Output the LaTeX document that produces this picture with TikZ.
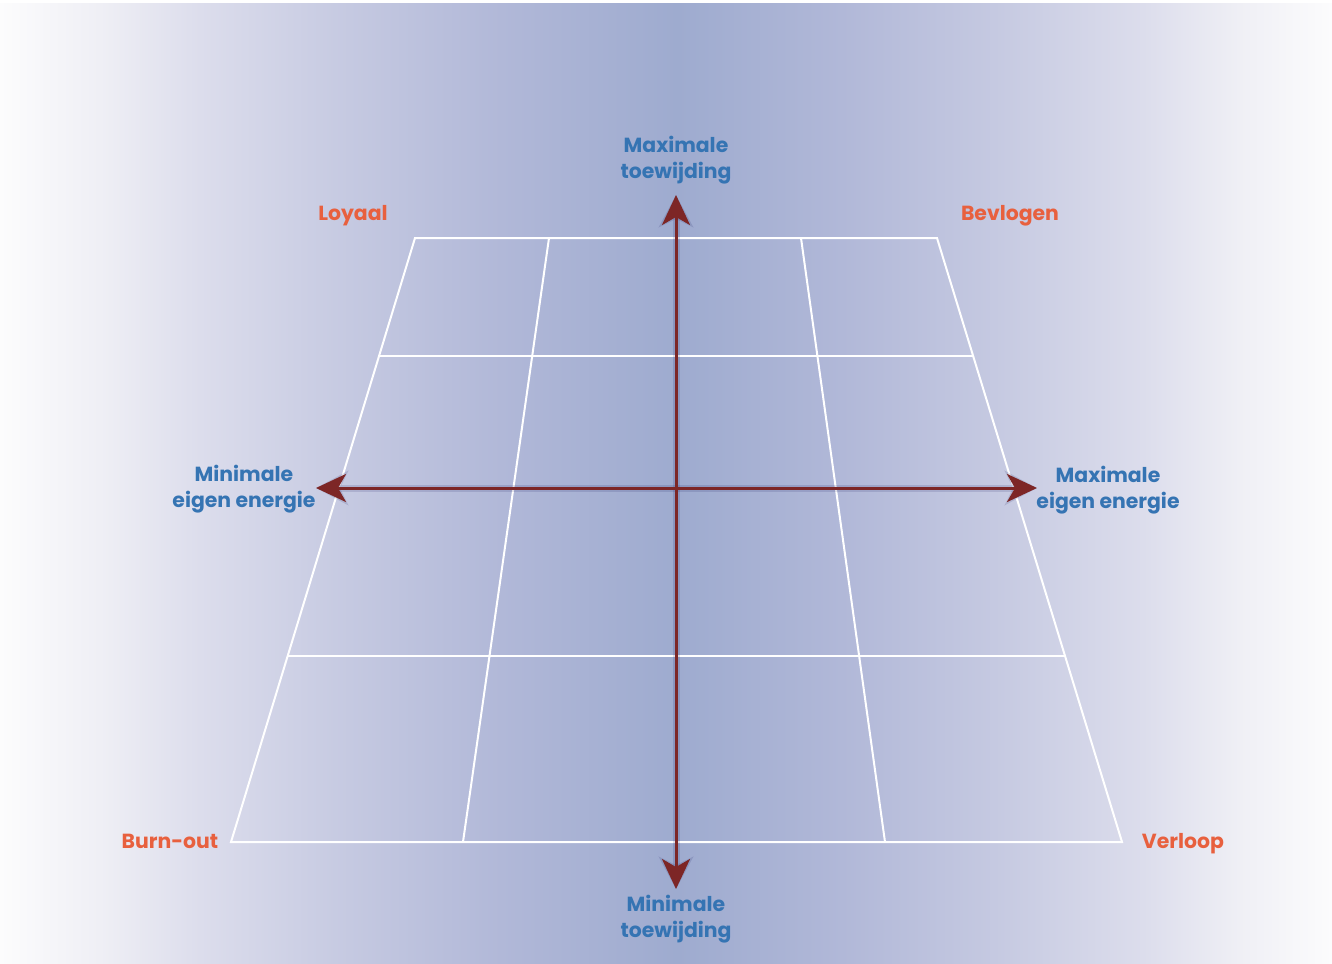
\documentclass[tikz,border=0pt]{standalone}
\usepackage{fontspec}
\setmainfont{Poppins}
\usetikzlibrary{arrows.meta}

\definecolor{labelblue}{HTML}{3574B3}
\definecolor{labelred}{HTML}{E8603E}
\definecolor{axisred}{HTML}{7D2626}

\definecolor{bgA}{HTML}{FCFCFD}
\definecolor{bgB}{HTML}{EFEFF5}
\definecolor{bgC}{HTML}{DCDDEC}
\definecolor{bgD}{HTML}{C5C9E1}
\definecolor{bgE}{HTML}{B1B8D8}
\definecolor{bgF}{HTML}{9EABCF}

% soft white edges fading into a blue band in the middle
% (the filled area spans 25bp to 75bp of the shading)
\pgfdeclarehorizontalshading{backdrop}{100bp}{%
  color(0bp)=(bgA);
  color(25bp)=(bgA);
  color(28.75bp)=(bgB);
  color(32.5bp)=(bgC);
  color(38.1bp)=(bgD);
  color(43.8bp)=(bgE);
  color(50.4bp)=(bgF);
  color(56.6bp)=(bgE);
  color(62.3bp)=(bgD);
  color(67.9bp)=(bgC);
  color(71.5bp)=(bgB);
  color(75bp)=(bgA);
  color(100bp)=(bgA)}

\tikzset{
  gridline/.style={draw=white, line width=1pt},
  axis/.style={draw=axisred, line width=1.5pt,
    {Stealth[length=15pt,width=14pt,inset=4pt]}-{Stealth[length=15pt,width=14pt,inset=4pt]}},
  axisshadow/.style={draw=black!70!blue, opacity=0.12, line width=3.5pt,
    {Stealth[length=16pt,width=17pt,inset=4pt]}-{Stealth[length=16pt,width=17pt,inset=4pt]}},
  dirlabel/.style={text=labelblue, font=\bfseries\fontsize{10.2}{13}\selectfont, align=center},
  cornerlabel/.style={text=labelred, font=\bfseries\fontsize{10.2}{13}\selectfont, anchor=base},
}

\begin{document}
\begin{tikzpicture}[x=0.5pt, y=-0.5pt]
  \useasboundingbox (0,0) rectangle (1332,963);
  \fill[white] (0,0) rectangle (1332,963);
  \shade[shading=backdrop] (0,4) rectangle (1332,963);

  % corners of the trapezoid field
  \coordinate (tl) at (415,238);
  \coordinate (tr) at (937,238);
  \coordinate (bl) at (231,842);
  \coordinate (br) at (1122,842);

  % outline
  \draw[gridline] (tl) -- (tr) -- (br) -- (bl) -- cycle;
  % inner column dividers
  \coordinate (c1t) at (549,238);  \coordinate (c1b) at (463,842);
  \coordinate (c3t) at (801,238);  \coordinate (c3b) at (885,842);
  \draw[gridline] (c1t) -- (c1b);
  \draw[gridline] (c3t) -- (c3b);
  % row dividers
  \coordinate (r1l) at (379.1,356);  \coordinate (r1r) at (973.1,356);
  \coordinate (r2l) at (351.2,488);  \coordinate (r2r) at (1013.4,488);
  \coordinate (r3l) at (287.7,656);  \coordinate (r3r) at (1065.1,656);
  \draw[gridline] (r1l) -- (r1r);
  \draw[gridline] (r2l) -- (r2r);
  \draw[gridline] (r3l) -- (r3r);

  % axes with a faint shadow
  \coordinate (vtop) at (676,195);
  \coordinate (vbot) at (676,889);
  \coordinate (hleft) at (316,488);
  \coordinate (hright) at (1037,488);
  \begin{scope}[shift={(4,4)}]
    \draw[axisshadow] (vbot) -- (vtop);
    \draw[axisshadow] (hleft) -- (hright);
  \end{scope}
  \draw[axis] (vbot) -- (vtop);
  \draw[axis] (hleft) -- (hright);

  % axis labels
  \node[dirlabel] (maxtoe) at (676,160) {Maximale\\toewijding};
  \node[dirlabel] (mintoe) at (676,919) {Minimale\\toewijding};
  \node[dirlabel] (minen) at (244,489) {Minimale\\eigen energie};
  \node[dirlabel] (maxen) at (1108,490) {Maximale\\eigen energie};

  % corner labels, set on a common baseline
  \node[cornerlabel] (loyaal) at (353,220) {Loyaal};
  \node[cornerlabel] (bevlogen) at (1010,220) {Bevlogen};
  \node[cornerlabel] (burnout) at (170,848) {Burn-out};
  \node[cornerlabel] (verloop) at (1183,848) {Verloop};
\end{tikzpicture}
\end{document}
